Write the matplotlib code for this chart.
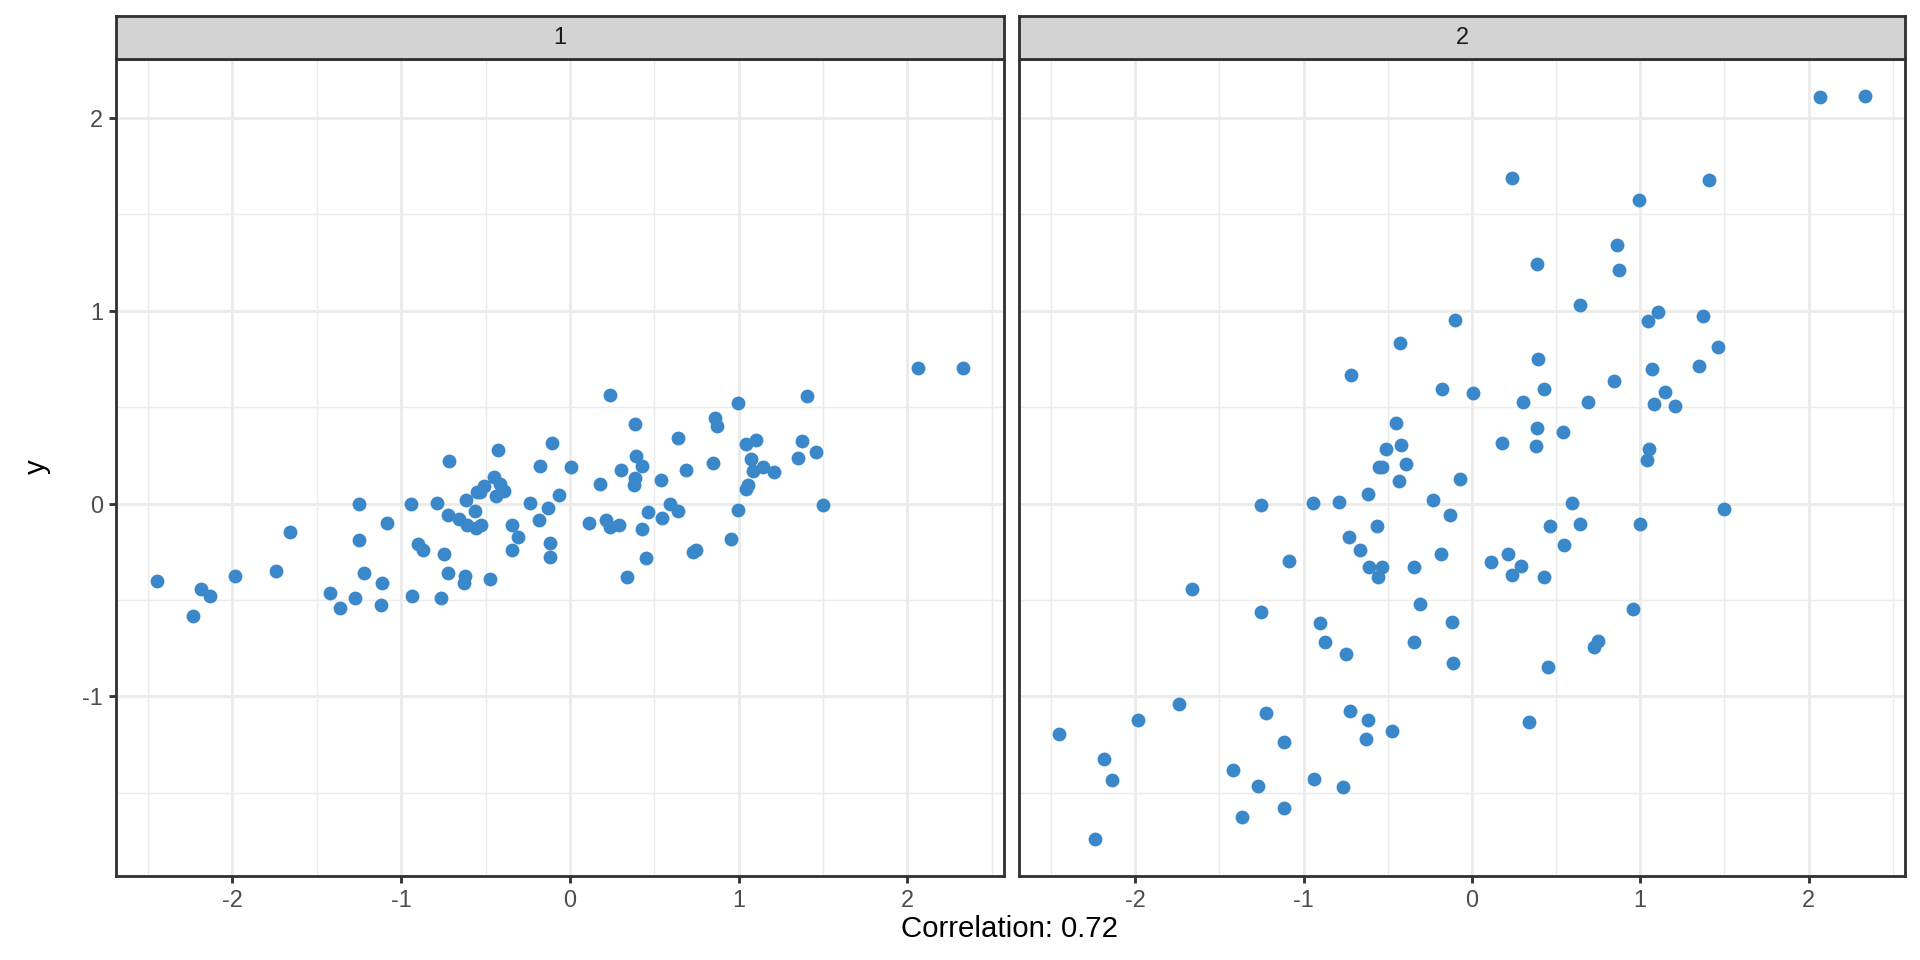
import matplotlib.pyplot as plt
from matplotlib.ticker import MultipleLocator

# === Data ===
paneles = ["1", "2"]

x1 = [-2.449, -2.235, -2.184, -2.136, -1.982, -1.741, -1.660, -1.421, -1.364, -1.271,
      -1.249, -1.249, -1.223, -1.113, -1.117, -1.083, -0.939, -0.935, -0.901, -0.870,
      -0.787, -0.765, -0.745, -0.725, -0.725, -0.719, -0.660, -0.619, -0.630, -0.617,
      -0.611, -0.563, -0.555, -0.528, -0.551, -0.532, -0.508, -0.451, -0.427, -0.417,
      -0.391, -0.435, -0.474, -0.344, -0.308, -0.342, -0.235, -0.185, -0.176, -0.130,
      -0.120, -0.115, -0.103, -0.063, 0.008, 0.111, 0.178, 0.237, 0.213, 0.237,
      0.289, 0.304, 0.340, 0.387, 0.393, 0.429, 0.387, 0.381, 0.427, 0.451,
      0.464, 0.538, 0.545, 0.591, 0.640, 0.638, 0.688, 0.727, 0.749, 0.846,
      0.860, 0.874, 0.955, 0.994, 0.996, 1.045, 1.105, 1.071, 1.083, 1.144,
      1.209, 1.053, 1.042, 1.350, 1.375, 1.407, 1.458, 1.500, 2.065, 2.332]
y1 = [-0.401, -0.581, -0.443, -0.481, -0.375, -0.348, -0.149, -0.462, -0.543, -0.488,
      -0.003, -0.189, -0.363, -0.413, -0.528, -0.100, 0.000, -0.478, -0.208, -0.240,
      0.002, -0.491, -0.260, -0.360, -0.059, 0.220, -0.081, -0.374, -0.410, 0.016,
      -0.111, -0.040, -0.125, -0.109, 0.059, 0.062, 0.093, 0.138, 0.277, 0.102,
      0.067, 0.038, -0.394, -0.111, -0.175, -0.240, 0.005, -0.088, 0.196, -0.021,
      -0.206, -0.277, 0.315, 0.042, 0.190, -0.102, 0.102, 0.561, -0.088, -0.123,
      -0.109, 0.173, -0.381, 0.412, 0.249, 0.197, 0.131, 0.095, -0.130, -0.284,
      -0.042, 0.121, -0.073, -0.002, 0.341, -0.038, 0.173, -0.249, -0.239, 0.211,
      0.445, 0.401, -0.185, 0.522, -0.036, 0.311, 0.329, 0.230, 0.171, 0.190,
      0.166, 0.095, 0.073, 0.237, 0.322, 0.559, 0.268, -0.010, 0.701, 0.701]

x2 = [-0.103, -0.429, -0.719, -0.176, -0.451, -0.423, -0.510, -0.551, -0.536, -0.393,
      -0.435, -0.070, 2.067, 2.334, 0.239, 1.409, 0.994, 0.862, 0.387, 0.875,
      0.640, 1.105, 1.045, 1.375, 1.460, 0.393, 1.350, 1.071, 0.846, 0.008,
      0.431, 0.306, 0.690, 1.146, 1.083, 1.209, 0.387, 0.540, 0.180, 0.383,
      1.051, 1.043, -0.130, 0.593, 1.500, 0.466, 0.640, 0.996, 0.547, 0.113,
      0.217, 0.291, 0.241, 0.431, 0.957, -0.119, 0.749, 0.727, -0.113, 0.453,
      0.340, -0.615, -1.251, -0.941, -0.787, -0.233, -0.563, -0.727, -0.662, -1.085,
      -0.609, -0.534, -0.557, -0.346, -0.186, -1.662, -1.251, -0.310, -0.901, -0.872,
      -0.747, -0.344, -1.741, -1.984, -2.451, -2.184, -2.138, -2.237, -1.223, -1.113,
      -1.421, -1.273, -1.366, -1.117, -0.937, -0.767, -0.725, -0.619, -0.630, -0.476]
y2 = [0.953, 0.834, 0.666, 0.594, 0.416, 0.305, 0.281, 0.189, 0.190, 0.206,
      0.118, 0.125, 2.109, 2.114, 1.690, 1.681, 1.574, 1.343, 1.244, 1.213,
      1.029, 0.993, 0.945, 0.972, 0.811, 0.752, 0.716, 0.697, 0.638, 0.575,
      0.596, 0.525, 0.529, 0.579, 0.518, 0.506, 0.390, 0.371, 0.312, 0.298,
      0.284, 0.227, -0.057, 0.002, -0.028, -0.119, -0.104, -0.104, -0.215, -0.303,
      -0.263, -0.322, -0.369, -0.382, -0.548, -0.614, -0.713, -0.744, -0.827, -0.849,
      -1.135, 0.050, -0.010, 0.003, 0.009, 0.017, -0.116, -0.175, -0.239, -0.296,
      -0.330, -0.330, -0.379, -0.329, -0.261, -0.445, -0.562, -0.522, -0.621, -0.718,
      -0.779, -0.721, -1.040, -1.121, -1.197, -1.327, -1.436, -1.740, -1.088, -1.235,
      -1.381, -1.464, -1.628, -1.578, -1.427, -1.469, -1.076, -1.123, -1.220, -1.180]

etiqueta_x = "Correlation: 0.72"
etiqueta_y = "y"


def rango(vals, expand=0.05):
    lo, hi = min(vals), max(vals)
    d = (hi - lo) * expand
    return lo - d, hi + d


plt.rcParams['font.family'] = ['Liberation Sans', 'DejaVu Sans']
plt.rcParams['axes.unicode_minus'] = False

W, H = 1920, 960
fig = plt.figure(figsize=(10, 5), dpi=192)

xlim = rango(x1 + x2)
ylim = rango(y1 + y2)

color_punto = '#3A87C9'
gris20 = '#333333'
lw = 1.07

# panel boxes in pixels: left, right
cajas = [(116, 1004), (1019, 1905)]
top, bottom, strip_top = 59, 876, 16

series = [(x1, y1), (x2, y2)]

for i, ((izq, der), (xs, ys), nombre) in enumerate(zip(cajas, series, paneles)):
    ax = fig.add_axes([izq / W, 1 - bottom / H, (der - izq) / W, (bottom - top) / H])
    ax.scatter(xs, ys, s=27, color=color_punto, linewidths=0, zorder=3)
    ax.set_xlim(xlim)
    ax.set_ylim(ylim)

    ax.xaxis.set_major_locator(MultipleLocator(1))
    ax.yaxis.set_major_locator(MultipleLocator(1))
    ax.xaxis.set_minor_locator(MultipleLocator(0.5))
    ax.yaxis.set_minor_locator(MultipleLocator(0.5))
    ax.set_axisbelow(True)
    ax.grid(True, which='major', color='#EBEBEB', linewidth=lw)
    ax.grid(True, which='minor', color='#EBEBEB', linewidth=lw / 2)

    ax.tick_params(which='major', length=2.75, width=lw, color=gris20,
                   labelsize=8.8, labelcolor='#4D4D4D', pad=2.2)
    ax.tick_params(which='minor', length=0)
    if i > 0:
        ax.tick_params(axis='y', left=False, labelleft=False)

    for sp in ax.spines.values():
        sp.set_color(gris20)
        sp.set_linewidth(lw)

    # strip on top of the panel
    st = fig.add_axes([izq / W, 1 - top / H, (der - izq) / W, (top - strip_top) / H])
    st.set_facecolor('#D3D3D3')
    st.set_xticks([])
    st.set_yticks([])
    for sp in st.spines.values():
        sp.set_color(gris20)
        sp.set_linewidth(lw)
    st.text(0.5, 0.5, nombre, ha='center', va='center', fontsize=8.8,
            color='#1A1A1A', transform=st.transAxes)

fig.text(1010 / W, 1 - 929 / H, etiqueta_x, ha='center', va='center', fontsize=11)
fig.text(37 / W, 1 - 467 / H, etiqueta_y, ha='center', va='center', fontsize=11, rotation=90)

fig.savefig('out.png', dpi=192)
plt.close()
